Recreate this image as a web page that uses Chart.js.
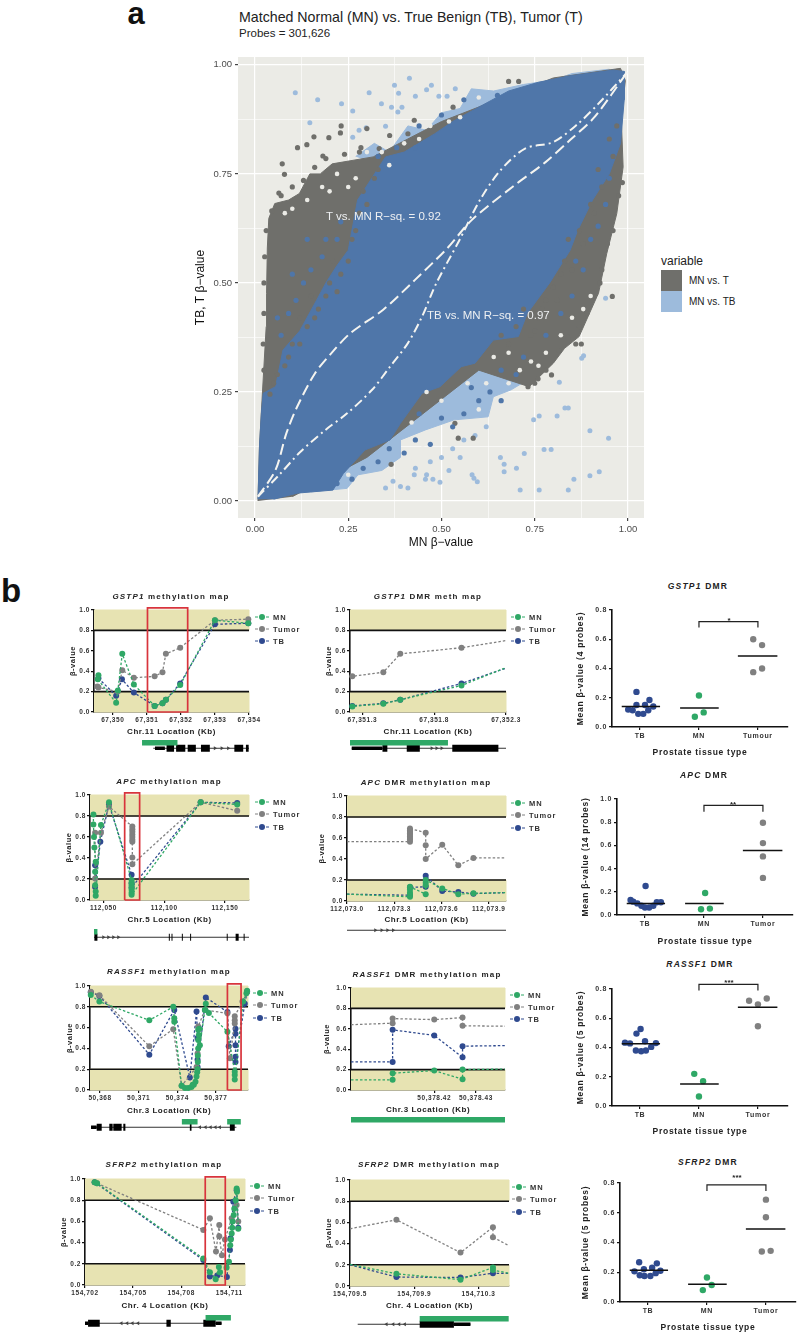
<!DOCTYPE html>
<html>
<head>
<meta charset="utf-8">
<style>
  html, body { margin: 0; background: #fff; }
  #page { position: relative; width: 800px; height: 1334px; overflow: hidden; font-family: "Liberation Sans", Arial, sans-serif; }
  #page canvas { position: absolute; }
  .txt { position: absolute; white-space: nowrap; }
  .mid { transform: translate(-50%, -50%); }
  .title { font-weight: bold; font-size: 8px; letter-spacing: 1.2px; color: #222; }
  .leg { font-weight: bold; font-size: 7.5px; letter-spacing: 0.9px; color: #333; transform: translateY(-50%); }
  .mk { position: absolute; width: 6px; height: 6px; border-radius: 50%; transform: translate(-50%, -50%); }
  .dash { position: absolute; width: 14px; height: 0; border-top: 1px dashed; transform: translate(-50%, -50%); }
</style>
<script src="https://cdn.jsdelivr.net/npm/chart.js@4"></script>
</head>
<body>
<div id="page"></div>
<script>
// ---------- panel a: hexbin outlines and stray bins
var grayOutline = [[.008,.0],[.012,.125],[.02,.25],[.03,.4],[.031,.476],[.033,.58],[.037,.648],[.053,.682],[.09,.69],[.119,.705],[.147,.75],[.175,.75],[.207,.773],[.317,.789],[.5,.87],[.8,.97],[.98,.992],[.993,.964],[.982,.88],[.987,.766],[.97,.659],[.943,.567],[.921,.476],[.917,.469],[.869,.377],[.83,.35],[.80,.316],[.735,.262],[.6,.3],[.3,.1],[.1,.01]];
var blueOutline = [[.008,.004],[.012,.125],[.017,.2],[.022,.247],[.055,.262],[.075,.346],[.12,.39],[.165,.46],[.19,.5],[.22,.54],[.25,.575],[.275,.69],[.31,.736],[.35,.789],[.40,.80],[.482,.842],[.53,.87],[.60,.903],[.68,.94],[.76,.96],[.845,.975],[.96,.988],[.99,.985],[.99,.92],[.98,.82],[.95,.75],[.905,.69],[.865,.62],[.845,.575],[.79,.5],[.73,.43],[.706,.377],[.639,.369],[.59,.316],[.553,.308],[.496,.262],[.448,.247],[.39,.178],[.362,.14],[.295,.117],[.237,.063],[.209,.025],[.113,.018],[.05,.004]];
var lightUpper = [[.27,.79],[.32,.82],[.36,.80],[.41,.86],[.46,.85],[.50,.89],[.55,.90],[.58,.945],[.64,.94],[.72,.955],[.80,.965],[.85,.98],[.95,.99],[.95,.95],[.6,.88],[.45,.80],[.33,.77]];
var lightLower = [[.15,.021],[.247,.029],[.276,.06],[.34,.07],[.39,.10],[.39,.14],[.457,.163],[.534,.186],[.625,.193],[.639,.239],[.687,.255],[.716,.27],[.76,.3],[.7,.38],[.5,.28],[.3,.12]];
var lightBins = [[.108,.936],[.168,.92],[.232,.911],[.262,.894],[.147,.867],[.306,.936],[.374,.953],[.414,.969],[.385,.935],[.339,.911],[.366,.903],[.394,.903],[.383,.892],[.46,.943],[.473,.953],[.43,.928],[.537,.945],[.493,.928],[.515,.928],[.35,.859],[.298,.856],[.279,.85],[.262,.834],
  [.948,.144],[.898,.161],[.898,.058],[.923,.067],[.855,.05],[.84,.025],[.762,.025],[.711,.025],[.701,.075],[.668,.084],[.668,.067],[.658,.10],[.722,.109],[.775,.118],[.794,.118],[.747,.186],[.762,.195],[.81,.195],[.831,.213],[.84,.213],[.816,.272],[.876,.327],[.881,.333],[.587,.052],[.596,.044],[.582,.06],[.477,.05],[.496,.043],[.457,.05],[.39,.033],[.427,.06],[.462,.304],[.477,.314],[.517,.314],[.555,.333],[.496,.28],[.94,.465],
  [.35,.03],[.37,.045],[.41,.03],[.43,.075],[.47,.09],[.50,.10],[.53,.12],[.56,.14],[.59,.15],[.62,.17],[.52,.07],[.55,.10],[.46,.06]];
var grayBins = [[.231,.86],[.229,.844],[.198,.833],[.158,.835],[.114,.81],[.139,.817],[.182,.791],[.073,.773],[.079,.749],[.064,.706],[.30,.854],[.284,.81],[.333,.808],[.361,.838],[.41,.842],[.427,.873],[.531,.903],[.68,.962],[.707,.962],
  [.958,.469],[.795,.289],[.732,.262],[.759,.28],[.585,.144],[.545,.144],[.536,.178],[.365,.084],[.86,.36],[.875,.36],
  [.12,.36],[.16,.42],[.19,.47],[.23,.52],[.27,.62],[.3,.68],[.33,.76],[.06,.29],[.09,.33],[.12,.42],[.76,.42],[.80,.49],[.83,.55],[.87,.62],[.9,.68],[.92,.76],[.95,.83],[.74,.38],[.78,.46],
  [.15,.47],[.17,.44],[.20,.50],[.21,.55],[.26,.60],[.28,.66],[.29,.71],[.32,.74],[.25,.55],[.22,.48],[.14,.40],[.10,.36],[.08,.31],[.05,.27],[.04,.245],
  [.72,.44],[.75,.39],[.77,.44],[.81,.46],[.82,.52],[.85,.53],[.84,.60],[.88,.59],[.91,.66],[.93,.72],[.96,.79],[.97,.86],[.70,.40],[.68,.36],[.66,.38],
  [.024,.30],[.022,.36],[.024,.43],[.024,.50],[.026,.56],[.03,.62],[.045,.665],[.07,.70],[.10,.72],[.13,.735],[.16,.765],[.19,.785],[.24,.795],[.28,.80],
  [.985,.73],[.975,.70],[.96,.62],[.945,.59],[.93,.53],[.925,.50],[.89,.43],[.87,.40],[.84,.375],[.815,.345],[.78,.30],[.75,.27]];
var blueBins = [[.22,.04],[.26,.05],[.29,.075],[.33,.09],[.36,.12],[.40,.11],[.43,.14],[.47,.13],[.44,.2],[.50,.19],[.53,.17],[.56,.2],[.60,.23],[.58,.26],[.63,.25],[.66,.30],[.70,.29],[.72,.33],[.66,.23],
  [.38,.81],[.44,.86],[.50,.885],[.56,.92],[.65,.93],[.33,.79],[.43,.81],[.18,.56],[.22,.60],[.13,.50],[.09,.43],[.85,.47],[.88,.53],[.92,.63],[.95,.74],
  [.07,.38],[.11,.46],[.15,.53],[.19,.60],[.23,.64],[.06,.42],[.10,.52],[.14,.60],[.86,.55],[.82,.43],[.78,.38],[.90,.60],[.94,.68]];
var holeBins = [[.25,.06],[.30,.035],[.34,.05],[.38,.06],[.40,.08],[.42,.09],[.45,.12],[.49,.16],[.52,.13],[.55,.165],[.57,.175],[.60,.21],[.62,.27],[.65,.22],[.68,.27],[.71,.30],[.74,.32],[.68,.34],[.64,.33],[.57,.27],[.50,.23],[.46,.25],[.42,.18],
  [.30,.80],[.34,.80],[.40,.82],[.44,.83],[.47,.86],[.52,.87],[.55,.88],[.60,.925],[.36,.77],[.27,.74],[.22,.75],[.18,.72],[.10,.67],[.08,.66],[.20,.71],[.25,.72],[.14,.69],
  [.85,.42],[.88,.44],[.82,.38],[.90,.47],[.78,.34],[.76,.31]];
var tbFit = [[.008,.01],[.055,.071],[.084,.155],[.113,.216],[.161,.293],[.209,.343],[.256,.385],[.343,.438],[.429,.507],[.515,.579],[.581,.644],[.69,.72],[.779,.777],[.844,.827],[.91,.88],[.998,.983]];
var tFit = [[.008,.01],[.065,.06],[.122,.113],[.189,.163],[.247,.201],[.314,.255],[.362,.308],[.41,.362],[.448,.423],[.486,.499],[.548,.598],[.603,.69],[.658,.758],[.724,.808],[.80,.823],[.866,.865],[.921,.911],[.998,.983]];
var hexXTicks = [0,.125,.25,.375,.5,.625,.75,.875,1];
var hexYTicks = [0,.125,.25,.375,.5,.625,.75,.875,1];
var hexLabels = ["0.00","","0.25","","0.50","","0.75","","1.00"];

// ---------- panel b: methylation maps
var betaTicks = [0,.2,.4,.6,.8,1];
var betaLabels = ["0.0","0.2","0.4","0.6","0.8","1.0"];
var bands = [[0,.2],[.8,1]];
var refLines = [.2,.8];

var gstp1MN = [[67349.58,.36],[67349.56,.32],[67350.1,.09],[67350.15,.21],[67350.28,.57],[67350.62,.27],[67351.23,.06],[67351.46,.085],[67351.56,.12],[67351.98,.265],[67353,.9],[67353.98,.87]];
var gstp1Tumor = [[67349.55,.25],[67349.58,.24],[67350.15,.2],[67350.28,.41],[67350.62,.335],[67351.23,.35],[67351.46,.39],[67351.56,.57],[67351.98,.63],[67353,.9],[67353.98,.91]];
var gstp1TB = [[67349.58,.33],[67350.1,.16],[67350.27,.32],[67350.62,.19],[67351.23,.06],[67351.46,.085],[67351.56,.12],[67351.98,.28],[67353,.86],[67353.98,.87]];
var gstp1Box = [67351.02,67352.2];

var gstp1DmrMN = [[67351.214,.05],[67351.23,.055],[67351.446,.08],[67351.564,.12],[67351.99,.26],[67352.3,.435]];
var gstp1DmrTumor = [[67351.214,.345],[67351.23,.35],[67351.446,.39],[67351.564,.57],[67351.99,.63],[67352.3,.70]];
var gstp1DmrTB = [[67351.214,.055],[67351.23,.06],[67351.446,.085],[67351.564,.12],[67351.99,.28],[67352.3,.43]];

var apcMN = [[112041.8,.815],[112041.8,.72],[112042.3,.6],[112042.6,.5],[112043.7,.365],[112043.2,.27],[112043.2,.14],[112043.7,.08],[112043.7,.04],[112048,.715],[112054.6,.93],[112073.2,.19],[112073.2,.165],[112073.2,.14],[112073.2,.115],[112073.2,.095],[112073.2,.07],[112073.2,.05],[112130,.93],[112160,.91]];
var apcTumor = [[112043.2,.64],[112043.2,.205],[112048,.64],[112054.6,.89],[112073.8,.70],[112073.8,.675],[112073.8,.65],[112073.8,.625],[112073.8,.6],[112073.8,.575],[112073.8,.555],[112073.8,.405],[112073.8,.34],[112130,.93],[112160,.85]];
var apcTB = [[112043.2,.33],[112043.2,.125],[112047.5,.555],[112054.6,.91],[112073.2,.24],[112073.2,.16],[112073.2,.12],[112130,.93],[112160,.925]];
var apcBox = [112067.5,112079.8];

var apcDmrMN = [[112073,.065],[112073.4,.04],[112073.4,.06],[112073.4,.08],[112073.4,.11],[112073.4,.135],[112073.5,.065],[112073.5,.15],[112073.5,.175],[112073.5,.2],[112073.605,.12],[112073.707,.065],[112073.803,.073],[112074.01,.08]];
var apcDmrTumor = [[112073,.565],[112073.4,.565],[112073.4,.585],[112073.4,.6],[112073.4,.615],[112073.4,.63],[112073.4,.645],[112073.4,.66],[112073.4,.675],[112073.4,.69],[112073.5,.65],[112073.5,.53],[112073.5,.40],[112073.605,.535],[112073.707,.34],[112073.803,.41],[112074.01,.41]];
var apcDmrTB = [[112073,.065],[112073.4,.055],[112073.4,.13],[112073.5,.135],[112073.5,.24],[112073.605,.095],[112073.707,.085],[112073.803,.07],[112074.01,.08]];

var rassf1MN = [[50367.28,.913],[50367.95,.85],[50371.83,.67],[50373.69,.80],[50373.77,.69],[50373.77,.657],[50374.34,.04],[50374.6,.02],[50374.85,.02],[50375.11,.03],[50375.2,.05],[50375.29,.05],[50375.42,.08],[50375.5,.13],[50375.55,.17],[50375.58,.2],[50375.6,.27],[50375.6,.33],[50375.63,.4],[50375.63,.48],[50375.68,.53],[50375.63,.58],[50375.71,.59],[50375.76,.43],[50376.15,.77],[50376.22,.83],[50376.46,.74],[50377.9,.56],[50378.47,.176],[50378.47,.145],[50378.47,.1],[50379.12,.85],[50379.38,.93],[50379.43,.955]];
var rassf1Tumor = [[50367.28,.945],[50367.95,.91],[50371.83,.42],[50373.69,.585],[50374.34,.04],[50375.5,.22],[50375.58,.35],[50375.63,.61],[50376.15,.77],[50377.9,.737],[50378.09,.305],[50378.47,.64],[50378.47,.67],[50378.47,.71],[50379.07,.85],[50379.43,.945]];
var rassf1TB = [[50367.28,.94],[50367.95,.905],[50371.83,.34],[50373.77,.77],[50374.98,.12],[50375.5,.755],[50375.58,.5],[50375.58,.29],[50375.58,.22],[50376.22,.89],[50377.9,.75],[50378,.42],[50378.53,.59],[50378.53,.54],[50378.53,.43],[50378.53,.32],[50378.53,.27],[50379.25,.83],[50379.43,.945]];
var rassf1Box = [50377.9,50378.96];

var rassf1DmrMN = [[50378.4,.1],[50378.41,.1],[50378.41,.165],[50378.42,.19],[50378.4268,.105],[50378.4268,.2],[50378.437,.205]];
var rassf1DmrTumor = [[50378.4,.64],[50378.41,.655],[50378.41,.70],[50378.42,.69],[50378.4268,.71],[50378.4268,.63],[50378.437,.625]];
var rassf1DmrTB = [[50378.4,.275],[50378.41,.275],[50378.41,.59],[50378.42,.535],[50378.4268,.32],[50378.4268,.43],[50378.437,.435]];

var sfrp2MN = [[154702.6,.97],[154702.75,.96],[154709.38,.25],[154709.79,.12],[154710.15,.055],[154710.35,.17],[154710.42,.12],[154710.83,.165],[154710.98,.22],[154711.06,.375],[154711.1,.43],[154711.15,.485],[154711.18,.54],[154711.21,.6],[154711.28,.66],[154711.31,.72],[154711.4,.8],[154711.46,.91],[154711.48,.88],[154711.56,.53]];
var sfrp2Tumor = [[154702.75,.96],[154709.38,.52],[154709.79,.63],[154710.17,.315],[154710.375,.565],[154710.375,.46],[154710.54,.28],[154710.73,.43],[154711.15,.63],[154711.46,.755],[154711.56,.6]];
var sfrp2TB = [[154702.6,.97],[154709.38,.235],[154709.79,.08],[154710.25,.09],[154710.85,.075],[154711.04,.33],[154711.08,.44],[154711.25,.785],[154711.46,.895],[154711.56,.54]];
var sfrp2Box = [154709.5,154710.75];

var sfrp2DmrMN = [[154709.5,.205],[154709.789,.115],[154710.188,.06],[154710.39,.175],[154710.39,.15],[154710.49,.12]];
var sfrp2DmrTumor = [[154709.5,.54],[154709.789,.625],[154710.188,.315],[154710.39,.555],[154710.39,.46],[154710.49,.38]];
var sfrp2DmrTB = [[154709.5,.2],[154709.789,.085],[154710.188,.08],[154710.39,.12],[154710.49,.12]];

// gene tracks: [start, end] in kb
var tracks = {
  gstp1: { green: [[67350.86,67351.9]], line: [67351.19,67354], thin: [[67351.24,67351.53]], thick: [[67351.58,67351.8],[67351.86,67352.13],[67352.2,67352.44],[67352.59,67352.85],[67353.57,67353.83],[67353.91,67353.99]], arrows: [67353,67353.2,67353.39], dir: 1 },
  gstp1Dmr: { green: [[67351.214,67351.896]], line: [67351.226,67352.3], thin: [[67351.226,67351.44]], thick: [[67351.44,67351.474],[67351.609,67351.70],[67351.926,67352.247]], arrows: [67351.783,67351.817,67351.852], dir: 1 },
  apc: { green: [[112042.3,112045.1]], line: [112042.3,112169.7], thin: [], thick: [[112042.6,112045.1],[112103.8,112104.6],[112106,112106.8],[112114.5,112115.3],[112121.3,112122.1],[112139.3,112139.9],[112151.4,112152.2],[112158.7,112161.2],[112165.3,112166.1]], arrows: [112050,112054.1,112058.2,112062.3], dir: 1 },
  apcDmr: { green: [], line: [112073,112074.01], thin: [], thick: [], arrows: [112073.18,112073.22,112073.257,112073.293], dir: 1 },
  rassf1: { green: [[50374.36,50375.58],[50377.88,50378.94]], line: [50367.3,50378.6], thin: [[50367.3,50367.74]], thick: [[50367.74,50368.13],[50368.72,50368.98],[50369.03,50369.68],[50369.81,50369.97],[50374.98,50375.11],[50378.09,50378.47]], arrows: [50375.76,50376.2,50376.59,50376.97,50377.31], dir: -1 },
  rassf1Dmr: { green: [[50378.4,50378.437]], line: null, thin: [], thick: [], arrows: [], dir: 1 },
  sfrp2: { green: [[154709.52,154711.1]], line: [154702,154710.52], thin: [[154702,154702.19],[154710.15,154710.52]], thick: [[154702.19,154702.92],[154707.08,154707.35],[154709.38,154710.15]], arrows: [154704.27,154704.63,154704.96,154705.31], dir: -1 },
  sfrp2Dmr: { green: [[154709.934,154710.488]], line: [154709.548,154710.25], thin: [[154710.147,154710.25]], thick: [[154709.934,154710.147]], arrows: [154709.727,154709.769,154709.806,154709.841], dir: -1 }
};

// ---------- panel b: group dot plots
var catLabelsA = ["TB","MN","Tumour"];
var catLabelsB = ["TB","MN","Tumor"];
var gstp1DotTB = [[.94,.24],[1.16,.185],[.94,.15],[1.085,.15],[1.225,.14],[.8,.12],[.875,.115],[1.14,.115],[.97,.09],[1.055,.09]];
var gstp1DotMN = [[2,.215],[2.08,.10],[1.93,.07]];
var gstp1DotT = [[2.92,.6],[3.07,.56],[3.07,.40],[2.92,.375]];
var gstp1Means = [.14,.13,.485];
var gstp1Bracket = [.68,.72];

var apcDotTB = [[1.01,.25],[.755,.13],[.8,.115],[.87,.10],[.94,.08],[1,.065],[1.07,.065],[1.14,.08],[1.2,.11],[1.27,.11]];
var apcDotMN = [[2.02,.19],[1.95,.05],[2.1,.055]];
var apcDotT = [[3,.795],[3,.62],[3,.505],[3,.32]];
var apcMeans = [.10,.10,.555];
var apcBracket = [.89,.945];

var rassf1DotTB = [[1.01,.527],[.94,.495],[1.085,.443],[.745,.433],[.83,.428],[1.27,.43],[1.19,.404],[1.1,.38],[1.02,.374],[.93,.38]];
var rassf1DotMN = [[1.92,.22],[2.07,.17],[2,.065]];
var rassf1DotT = [[2.85,.72],[3,.695],[3.15,.735],[3,.545]];
var rassf1Means = [.425,.15,.675];
var rassf1Bracket = [.79,.832];

var sfrp2DotTB = [[.85,.267],[1.15,.26],[.93,.22],[1.07,.23],[.77,.206],[1.21,.21],[.86,.18],[.94,.175],[1.04,.175],[1.13,.194]];
var sfrp2DotMN = [[2,.165],[2.08,.114],[1.93,.08]];
var sfrp2DotT = [[3,.688],[3,.57],[2.93,.34],[3.08,.344]];
var sfrp2Means = [.213,.12,.49];
var sfrp2Bracket = [.746,.788];

var GREEN = "#2fa866", GRAY = "#808080", NAVY = "#2f4a8f", BAND = "#e7e3b2", RED = "#d8343c";
var HEX_GRAY = "#6f6f6b", HEX_BLUE = "#4f76a9", HEX_LIGHT = "#9dbbdc", PANEL = "#ebebe6";

var page = document.getElementById("page");
var pts = function (a) { return a.map(function (p) { return { x: p[0], y: p[1] }; }); };

function addCanvas(left, top, w, h) {
  var c = document.createElement("canvas");
  c.width = w; c.height = h;
  c.style.left = left + "px"; c.style.top = top + "px";
  c.style.width = w + "px"; c.style.height = h + "px";
  page.appendChild(c);
  return c;
}

function addText(html, x, y, cls, css) {
  var d = document.createElement("div");
  d.className = "txt " + (cls || "");
  d.innerHTML = html;
  d.style.left = x + "px"; d.style.top = y + "px";
  if (css) d.style.cssText += css;
  page.appendChild(d);
  return d;
}

function addLegend(markX, textX, rows) {
  [["MN", GREEN], ["Tumor", GRAY], ["TB", NAVY]].forEach(function (s, i) {
    var dash = addText("", markX, rows[i], "dash");
    dash.style.borderColor = s[1];
    var m = addText("", markX, rows[i], "mk");
    m.style.background = s[1];
    addText(s[0], textX, rows[i], "leg");
  });
}

function spacing(px) {
  return { id: "spacing", beforeDraw: function (chart) { chart.ctx.letterSpacing = px + "px"; } };
}

function fixedTicks(vals) {
  return function (s) { s.ticks = vals.map(function (v) { return { value: v }; }); };
}

// keeps tick labels from pushing the plot area in, so it lands where asked
function fitBox(prop, size) {
  return function (s) {
    s[prop] = size;
    s.paddingLeft = s.paddingRight = s.paddingTop = s.paddingBottom = 0;
  };
}

function polygon(a, color, order) {
  return { data: pts(a), showLine: true, fill: "shape", backgroundColor: color, borderColor: color, borderWidth: 1, pointRadius: 0, tension: 0, clip: false, order: order };
}

function dots(a, color, r, order) {
  return { data: pts(a), showLine: false, backgroundColor: color, borderColor: color, pointRadius: r, pointBorderWidth: 0, clip: false, order: order };
}

// ---------- panel a
function drawHex() {
  var datasets = [
    polygon(lightUpper, HEX_LIGHT, 20),
    polygon(lightLower, HEX_LIGHT, 19),
    polygon(grayOutline, HEX_GRAY, 18),
    dots(lightBins, HEX_LIGHT, 2.5, 17),
    polygon(blueOutline, HEX_BLUE, 16),
    dots(grayBins, HEX_GRAY, 2.6, 15),
    dots(blueBins, HEX_BLUE, 2.6, 14),
    dots(holeBins, PANEL, 2.3, 13),
    { data: pts(tbFit), showLine: true, borderColor: "#f4f4f0", borderWidth: 2, borderDash: [11, 5], pointRadius: 0, tension: .3, clip: false, order: 2 },
    { data: pts(tFit), showLine: true, borderColor: "#f4f4f0", borderWidth: 2, borderDash: [9, 4, 2, 4], pointRadius: 0, tension: .3, clip: false, order: 1 }
  ];
  var l = 238, r = 644, t = 57, b = 518, leftW = 45, botH = 32, pad = 4;
  var c = addCanvas(l - leftW, t - pad, r - l + leftW + pad, b - t + botH + pad);
  var major = function (ctx) { return hexLabels[ctx.index] !== ""; };
  new Chart(c, {
    type: "scatter",
    data: { datasets: datasets },
    plugins: [{
      id: "panelBg",
      beforeDraw: function (chart) {
        var a = chart.chartArea;
        chart.ctx.fillStyle = PANEL;
        chart.ctx.fillRect(a.left, a.top, a.right - a.left, a.bottom - a.top);
      }
    }],
    options: {
      responsive: false, animation: false, events: [],
      layout: { padding: { top: pad, right: pad } },
      plugins: { legend: { display: false }, tooltip: { enabled: false } },
      scales: {
        x: {
          type: "linear", min: -.0456, max: 1.043, afterBuildTicks: fixedTicks(hexXTicks),
          afterFit: fitBox("height", botH),
          border: { display: false },
          grid: { color: "#fff", lineWidth: function (ctx) { return major(ctx) ? 1.2 : .6; }, tickColor: function (ctx) { return major(ctx) ? "#444" : "transparent"; }, tickLength: 3 },
          ticks: { autoSkip: false, maxRotation: 0, color: "#4d4d4d", font: { size: 9.5 }, padding: 3, callback: function (v, i) { return hexLabels[i]; } },
          title: { display: true, text: "MN β−value", color: "#111", font: { size: 12 }, padding: 0 }
        },
        y: {
          type: "linear", min: -.039, max: 1.018, afterBuildTicks: fixedTicks(hexYTicks),
          afterFit: fitBox("width", leftW),
          border: { display: false },
          grid: { color: "#fff", lineWidth: function (ctx) { return major(ctx) ? 1.2 : .6; }, tickColor: function (ctx) { return major(ctx) ? "#444" : "transparent"; }, tickLength: 3 },
          ticks: { autoSkip: false, color: "#4d4d4d", font: { size: 9.5 }, padding: 3, callback: function (v, i) { return hexLabels[i]; } },
          title: { display: true, text: "TB, T β−value", color: "#111", font: { size: 12 }, padding: 0 }
        }
      }
    }
  });
  addText("a", 136, 14, "mid", "font-weight:bold;font-size:31px;color:#111;");
  addText("Matched Normal (MN) vs. True Benign (TB), Tumor (T)", 239, 9, "", "font-size:14.2px;color:#222;");
  addText("Probes = 301,626", 239, 27, "", "font-size:11.5px;color:#222;");
  addText("T vs. MN R−sq. = 0.92", 326, 210, "", "font-size:11.5px;color:#eef0f2;");
  addText("TB vs. MN R−sq. = 0.97", 427, 309, "", "font-size:11.5px;color:#eef0f2;");
  addText("variable", 661, 254, "", "font-size:12px;color:#222;");
  addText("", 661, 270, "", "width:21px;height:21px;background:" + HEX_GRAY + ";");
  addText("", 661, 291, "", "width:21px;height:21px;background:" + HEX_LIGHT + ";");
  addText("MN vs. T", 689, 275, "", "font-size:10px;color:#222;");
  addText("MN vs. TB", 689, 296, "", "font-size:10px;color:#222;");
}

// ---------- panel b
function drawMap(o) {
  var l = o.plot[0], r = o.plot[1], t = o.plot[2], b = o.plot[3];
  var leftW = o.yGap + 5, botH = o.xTitleY - b + 5, pad = 18;
  var c = addCanvas(l - leftW, t - pad, r - l + leftW + pad, b - t + botH + pad);
  var set = [];
  bands.forEach(function (h, i) {
    set.push(polygon([[o.xMin, h[0]], [o.xMax, h[0]], [o.xMax, h[1]], [o.xMin, h[1]]], BAND, 30 + i));
  });
  refLines.forEach(function (v) {
    set.push({ data: pts([[o.xMin, v], [o.xMax, v]]), showLine: true, borderColor: "#111", borderWidth: 1.6, pointRadius: 0, clip: false, order: 20 });
  });
  [[o.series[2], NAVY, 5], [o.series[1], GRAY, 4], [o.series[0], GREEN, 3]].forEach(function (s) {
    set.push({
      data: pts(s[0]), showLine: true, borderColor: s[1], backgroundColor: s[1], borderWidth: 1.3, borderDash: [2.5, 2],
      pointRadius: function (ctx) {
        var x = ctx.parsed.x;
        return (x <= o.xMin || x >= o.xMax) ? 0 : 3;
      },
      pointBorderWidth: 0, tension: 0, clip: false, order: s[2]
    });
  });
  if (o.box) {
    set.push({
      data: pts([[o.box[0], 0], [o.box[0], 1.02], [o.box[1], 1.02], [o.box[1], 0], [o.box[0], 0]]),
      showLine: true, borderColor: RED, borderWidth: 1.7, pointRadius: 0, clip: false, order: 1
    });
  }
  new Chart(c, {
    type: "scatter",
    data: { datasets: set },
    plugins: [spacing(.55)],
    options: {
      responsive: false, animation: false, events: [],
      layout: { padding: { top: pad, right: pad } },
      plugins: { legend: { display: false }, tooltip: { enabled: false } },
      scales: {
        x: {
          type: "linear", min: o.xMin, max: o.xMax, afterBuildTicks: fixedTicks(o.xTicks),
          afterFit: fitBox("height", botH),
          border: { color: "#111", width: 1.6 },
          grid: { drawOnChartArea: false, color: "#111", lineWidth: 1.2, tickLength: 3 },
          ticks: { autoSkip: false, maxRotation: 0, color: "#333", font: { size: 6.5, weight: "bold" }, padding: 1, callback: function (v, i) { return o.xLabels[i]; } },
          title: { display: true, text: o.xTitle, color: "#222", font: { size: 8, weight: "bold" }, padding: 0 }
        },
        y: {
          type: "linear", min: 0, max: 1, afterBuildTicks: fixedTicks(betaTicks),
          afterFit: fitBox("width", leftW),
          border: { color: "#111", width: 1.6 },
          grid: { drawOnChartArea: false, color: "#111", lineWidth: 1.2, tickLength: 3 },
          ticks: { autoSkip: false, color: "#333", font: { size: 6.5, weight: "bold" }, padding: 1, callback: function (v, i) { return betaLabels[i]; } },
          title: { display: true, text: "β-value", color: "#222", font: { size: 7.5, weight: "bold" }, padding: 0 }
        }
      }
    }
  });
  addText(o.title, o.titleX, o.titleY, "mid title");
  addLegend(o.legX, o.legX + 11, o.legRows);
  drawTrack(tracks[o.track], o);
}

function drawTrack(tr, o) {
  var l = o.plot[0], r = o.plot[1], gap = o.trackGap || 9.5, pad = 5;
  var c = addCanvas(l - pad, o.geneY - gap * 1.5, r - l + pad * 2, gap * 2);
  var set = [];
  var seg = function (a, lvl, color, w, ord) {
    set.push({ data: pts([[a[0], lvl], [a[1], lvl]]), showLine: true, borderColor: color, borderWidth: w, borderCapStyle: "butt", pointRadius: 0, clip: false, order: ord });
  };
  tr.green.forEach(function (a) { seg(a, 1, GREEN, 5.5, 1); });
  if (tr.line) seg(tr.line, 0, "#333", 1, 5);
  tr.thin.forEach(function (a) { seg(a, 0, "#000", 3.5, 2); });
  tr.thick.forEach(function (a) { seg(a, 0, "#000", 7, 2); });
  if (tr.arrows.length) {
    set.push({
      data: tr.arrows.map(function (x) { return { x: x, y: 0 }; }), showLine: false, pointStyle: "triangle",
      rotation: tr.dir > 0 ? 90 : -90, pointRadius: 2.2, backgroundColor: "#444", borderColor: "#444", pointBorderWidth: 0, clip: false, order: 3
    });
  }
  new Chart(c, {
    type: "scatter",
    data: { datasets: set },
    options: {
      responsive: false, animation: false, events: [],
      layout: { padding: { left: pad, right: pad } },
      plugins: { legend: { display: false }, tooltip: { enabled: false } },
      scales: {
        x: { type: "linear", min: o.xMin, max: o.xMax, display: false },
        y: { type: "linear", min: -.5, max: 1.5, display: false }
      }
    }
  });
}

function drawDots(o) {
  var l = o.plot[0], r = o.plot[1], t = o.plot[2], b = o.plot[3];
  var leftW = l - o.yTitleX + 6, botH = o.xTitleY - b + 6, pad = 6;
  var c = addCanvas(l - leftW, t - pad, r - l + leftW + pad, b - t + botH + pad);
  var set = [];
  var spans = [[.69, 1.34], [1.68, 2.335], [2.66, 3.33]];
  o.means.forEach(function (m, i) {
    set.push({ data: pts([[spans[i][0], m], [spans[i][1], m]]), showLine: true, borderColor: "#111", borderWidth: 1.5, pointRadius: 0, clip: false, order: 1 });
  });
  set.push({
    data: pts([[2, o.bracket[0]], [2, o.bracket[1]], [3, o.bracket[1]], [3, o.bracket[0]]]),
    showLine: true, borderColor: "#222", borderWidth: 1.2, pointRadius: 0, clip: false, order: 2
  });
  set.push(dots(o.tb, NAVY, 3.2, 3));
  set.push(dots(o.mn, GREEN, 3.2, 3));
  set.push(dots(o.t, GRAY, 3.2, 3));
  var yLabels = o.yTicks.map(function (v) { return v.toFixed(1); });
  new Chart(c, {
    type: "scatter",
    data: { datasets: set },
    plugins: [spacing(.7)],
    options: {
      responsive: false, animation: false, events: [],
      layout: { padding: { top: pad, right: pad } },
      plugins: { legend: { display: false }, tooltip: { enabled: false } },
      scales: {
        x: {
          type: "linear", min: .525, max: 3.51, afterBuildTicks: fixedTicks([1, 2, 3]),
          afterFit: fitBox("height", botH),
          border: { color: "#111", width: 1.6 },
          grid: { drawOnChartArea: false, color: "#111", lineWidth: 1.2, tickLength: 3 },
          ticks: { autoSkip: false, maxRotation: 0, color: "#333", font: { size: 7, weight: "bold" }, padding: 2, callback: function (v, i) { return o.cats[i]; } },
          title: { display: true, text: "Prostate tissue type", color: "#222", font: { size: 8.5, weight: "bold" }, padding: 0 }
        },
        y: {
          type: "linear", min: 0, max: o.yTicks[o.yTicks.length - 1], afterBuildTicks: fixedTicks(o.yTicks),
          afterFit: fitBox("width", leftW),
          border: { color: "#111", width: 1.6 },
          grid: { drawOnChartArea: false, color: "#111", lineWidth: 1.2, tickLength: 3 },
          ticks: { autoSkip: false, color: "#333", font: { size: 7, weight: "bold" }, padding: 2, callback: function (v, i) { return yLabels[i]; } },
          title: { display: true, text: o.yTitle, color: "#222", font: { size: 8.5, weight: "bold" }, padding: 0 }
        }
      }
    }
  });
  addText(o.title, o.titleX, o.titleY, "mid title", "font-size:8.5px;");
  addText(o.stars, o.starX, o.starY, "mid", "font-size:8px;font-weight:bold;color:#222;");
}

drawHex();
addText("b", 11, 591, "mid", "font-weight:bold;font-size:33px;color:#111;");

drawMap({ plot: [94,249,610,712], yGap: 21, xTitleY: 732, xMin: 67349.45, xMax: 67354, xTicks: [67350,67351,67352,67353,67354], xLabels: ["67,350","67,351","67,352","67,353","67,354"], xTitle: "Chr.11 Location (Kb)", series: [gstp1MN,gstp1Tumor,gstp1TB], box: gstp1Box, title: "<i>GSTP1</i> methylation map", titleX: 171, titleY: 596, legX: 262, legRows: [617,629,641], track: "gstp1", geneY: 750 });
drawMap({ plot: [350,506,610,712], yGap: 21, xTitleY: 732, xMin: 67351.214, xMax: 67352.3, xTicks: [67351.3,67351.8,67352.3], xLabels: ["67,351.3","67,351.8","67,352.3"], xTitle: "Chr.11 Location (Kb)", series: [gstp1DmrMN,gstp1DmrTumor,gstp1DmrTB], title: "<i>GSTP1</i> DMR meth map", titleX: 428, titleY: 596, legX: 518, legRows: [617,629,641], track: "gstp1Dmr", geneY: 750 });
drawDots({ plot: [612,788,610,727], yTitleX: 582, xTitleY: 752, yTicks: [0,.2,.4,.6,.8], cats: catLabelsA, tb: gstp1DotTB, mn: gstp1DotMN, t: gstp1DotT, means: gstp1Means, bracket: gstp1Bracket, yTitle: "Mean β-value (4 probes)", title: "<i>GSTP1</i> DMR", titleX: 698, titleY: 586, stars: "*", starX: 729, starY: 620 });

drawMap({ plot: [90,249,795,900], yGap: 21, xTitleY: 920, xMin: 112039, xMax: 112169.7, xTicks: [112050,112100,112150], xLabels: ["112,050","112,100","112,150"], xTitle: "Chr.5 Location (Kb)", series: [apcMN,apcTumor,apcTB], box: apcBox, title: "<i>APC</i> methylation map", titleX: 169, titleY: 781, legX: 262, legRows: [802,814,827], track: "apc", geneY: 939 });
drawMap({ plot: [347,506,796,901], yGap: 25, xTitleY: 920, xMin: 112073, xMax: 112074.01, xTicks: [112073,112073.3,112073.6,112073.9], xLabels: ["112,073.0","112,073.3","112,073.6","112,073.9"], xTitle: "Chr.5 Location (Kb)", series: [apcDmrMN,apcDmrTumor,apcDmrTB], title: "<i>APC</i> DMR methylation map", titleX: 426, titleY: 782, legX: 518, legRows: [803,815,828], track: "apcDmr", geneY: 932 });
drawDots({ plot: [617,793,799,915], yTitleX: 587, xTitleY: 941, yTicks: [0,.2,.4,.6,.8,1], cats: catLabelsB, tb: apcDotTB, mn: apcDotMN, t: apcDotT, means: apcMeans, bracket: apcBracket, yTitle: "Mean β-value (14 probes)", title: "<i>APC</i> DMR", titleX: 704, titleY: 775, stars: "**", starX: 733, starY: 804 });

drawMap({ plot: [90,248,986,1090], yGap: 20, xTitleY: 1111, xMin: 50367.22, xMax: 50379.5, xTicks: [50368,50371,50374,50377], xLabels: ["50,368","50,371","50,374","50,377"], xTitle: "Chr.3 Location (Kb)", series: [rassf1MN,rassf1Tumor,rassf1TB], box: rassf1Box, title: "<i>RASSF1</i> methylation map", titleX: 169, titleY: 971, legX: 260, legRows: [993,1005,1018], track: "rassf1", geneY: 1129 });
drawMap({ plot: [351,505,988,1090], yGap: 24, xTitleY: 1110, xMin: 50378.4, xMax: 50378.437, xTicks: [50378.42,50378.43], xLabels: ["50,378.42","50,378.43"], xTitle: "Chr.3 Location (Kb)", series: [rassf1DmrMN,rassf1DmrTumor,rassf1DmrTB], title: "<i>RASSF1</i> DMR methylation map", titleX: 427, titleY: 974, legX: 517, legRows: [995,1007,1019], track: "rassf1Dmr", geneY: 1129 });
drawDots({ plot: [612,788,989,1106], yTitleX: 582, xTitleY: 1131, yTicks: [0,.2,.4,.6,.8], cats: catLabelsB, tb: rassf1DotTB, mn: rassf1DotMN, t: rassf1DotT, means: rassf1Means, bracket: rassf1Bracket, yTitle: "Mean β-value (5 probes)", title: "<i>RASSF1</i> DMR", titleX: 700, titleY: 964, stars: "***", starX: 729, starY: 982 });

drawMap({ plot: [85,245,1179,1285], yGap: 21, xTitleY: 1306, xMin: 154702, xMax: 154711.98, xTicks: [154702,154705,154708,154711], xLabels: ["154,702","154,705","154,708","154,711"], xTitle: "Chr. 4 Location (Kb)", series: [sfrp2MN,sfrp2Tumor,sfrp2TB], box: sfrp2Box, title: "<i>SFRP2</i> methylation map", titleX: 164, titleY: 1164, legX: 257, legRows: [1186,1198,1211], track: "sfrp2", geneY: 1325 });
drawMap({ plot: [350,509,1180,1286], yGap: 21, xTitleY: 1306, xMin: 154709.5, xMax: 154710.49, xTicks: [154709.5,154709.9,154710.3], xLabels: ["154,709.5","154,709.9","154,710.3"], xTitle: "Chr. 4 Location (Kb)", series: [sfrp2DmrMN,sfrp2DmrTumor,sfrp2DmrTB], title: "<i>SFRP2</i> DMR methylation map", titleX: 429, titleY: 1164, legX: 519, legRows: [1187,1199,1212], track: "sfrp2Dmr", geneY: 1326 });
drawDots({ plot: [620,796,1183,1302], yTitleX: 587, xTitleY: 1327, yTicks: [0,.2,.4,.6,.8], cats: catLabelsB, tb: sfrp2DotTB, mn: sfrp2DotMN, t: sfrp2DotT, means: sfrp2Means, bracket: sfrp2Bracket, yTitle: "Mean β-value (5 probes)", title: "<i>SFRP2</i> DMR", titleX: 708, titleY: 1162, stars: "***", starX: 737, starY: 1177 });
</script>
</body>
</html>
